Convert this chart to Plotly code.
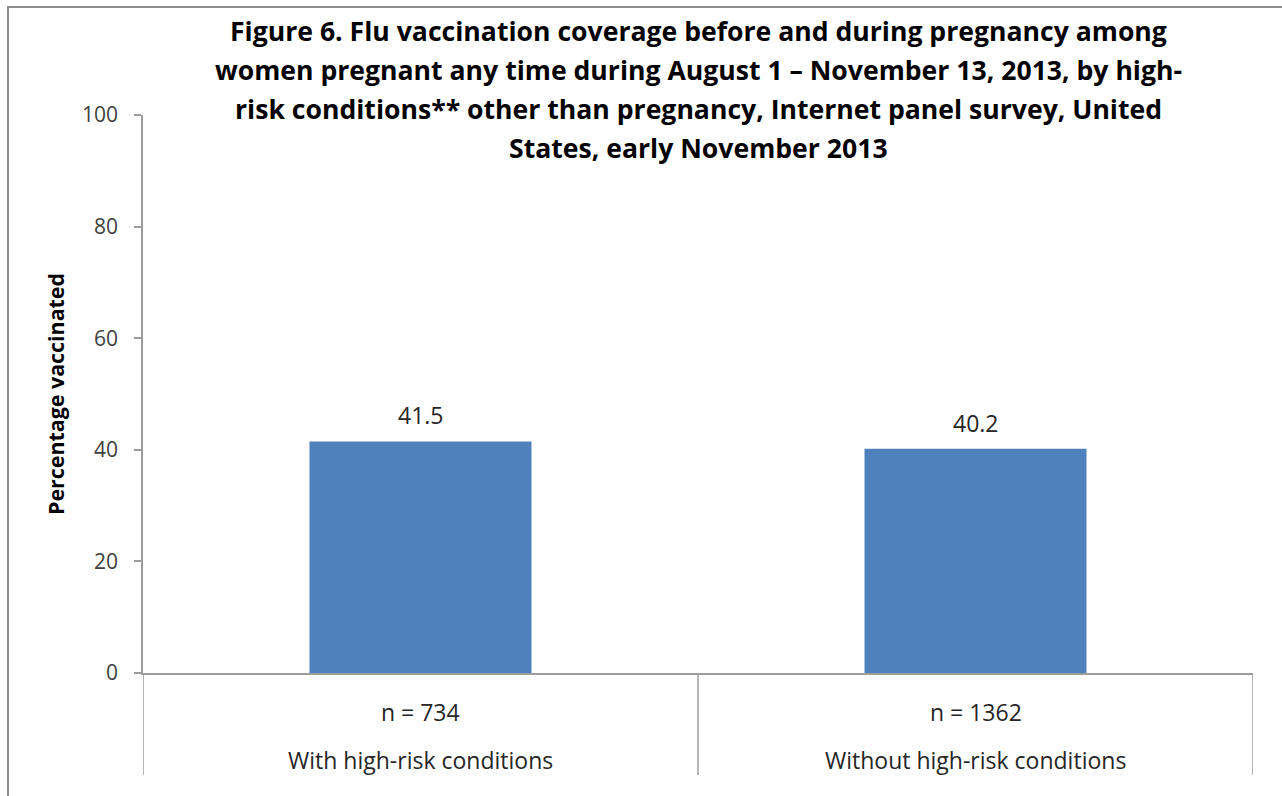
import plotly.graph_objects as go

# Chart data
categories = ["With high-risk conditions", "Without high-risk conditions"]
sample_sizes = ["n = 734", "n = 1362"]
pct_vaccinated = [41.5, 40.2]
y_ticks = [0, 20, 40, 60, 80, 100]

title_lines = [
    "Figure 6. Flu vaccination coverage before and during pregnancy among",
    "women pregnant any time during August 1 \u2013 November 13, 2013, by high-",
    "risk conditions** other than pregnancy, Internet panel survey, United",
    "States, early November 2013",
]

W, H = 1282, 796
L, R, T, B = 143, 29, 115, 123
plot_h = H - T - B

FONT = "Open Sans"
AXIS_GRAY = "#9c9c9c"
TEXT = "#262626"
BAR_BLUE = "#4f81bd"


def py_to_paper(py):
    """Convert a pixel row to plot-area paper coordinates."""
    return (H - B - py) / plot_h


x_idx = list(range(len(categories)))

fig = go.Figure(
    go.Bar(
        x=x_idx,
        y=pct_vaccinated,
        width=0.4,
        marker=dict(color=BAR_BLUE, line=dict(width=0)),
        hoverinfo="y",
    )
)

annotations = []
# Title, one line per annotation for fixed line spacing
for i, line in enumerate(title_lines):
    annotations.append(dict(
        text=f"<b>{line}</b>", xref="x", yref="paper",
        x=0.5, y=py_to_paper(31 + 39 * i), xanchor="center", yanchor="middle",
        showarrow=False, font=dict(family=FONT, size=26.6, color="#000000"),
    ))

# Value labels above each bar
for i, v in enumerate(pct_vaccinated):
    annotations.append(dict(
        text=f"{v:.1f}", xref="x", yref="y", x=i, y=v,
        xanchor="center", yanchor="middle", yshift=26, showarrow=False,
        font=dict(family=FONT, size=23, color=TEXT),
    ))

# Two-row category labels under the axis
for i, (cat, n) in enumerate(zip(categories, sample_sizes)):
    annotations.append(dict(
        text=n, xref="x", yref="paper", x=i, y=py_to_paper(712),
        xanchor="center", yanchor="middle", showarrow=False,
        font=dict(family=FONT, size=23, color=TEXT),
    ))
    annotations.append(dict(
        text=cat, xref="x", yref="paper", x=i, y=py_to_paper(760),
        xanchor="center", yanchor="middle", showarrow=False,
        font=dict(family=FONT, size=23, color=TEXT),
    ))

# Category separators extending below the axis
shapes = []
for xb in [-0.5 + k for k in range(len(categories) + 1)]:
    shapes.append(dict(
        type="line", xref="x", yref="paper", x0=xb, x1=xb,
        y0=0, y1=py_to_paper(775),
        line=dict(color=AXIS_GRAY, width=1.5),
    ))

# Outer frame: left and top edges
shapes.append(dict(type="line", xref="paper", yref="paper",
                   x0=(8 - L) / (W - L - R), x1=(8 - L) / (W - L - R),
                   y0=py_to_paper(7), y1=py_to_paper(H + 5),
                   line=dict(color="#8c8c8c", width=2)))
shapes.append(dict(type="line", xref="paper", yref="paper",
                   x0=(7 - L) / (W - L - R), x1=(W + 5 - L) / (W - L - R),
                   y0=py_to_paper(7), y1=py_to_paper(7),
                   line=dict(color="#8c8c8c", width=2)))

fig.update_layout(
    width=W, height=H,
    margin=dict(l=L, r=R, t=T, b=B, pad=0),
    paper_bgcolor="white", plot_bgcolor="white",
    showlegend=False,
    annotations=annotations,
    shapes=shapes,
    xaxis=dict(
        range=[-0.5, len(categories) - 0.5],
        showticklabels=False, showgrid=False, zeroline=False,
        showline=True, linecolor=AXIS_GRAY, linewidth=1.5,
        ticks="", fixedrange=True,
    ),
    yaxis=dict(
        range=[0, 100], tickvals=y_ticks,
        showgrid=False, zeroline=False,
        showline=True, linecolor=AXIS_GRAY, linewidth=1.5,
        ticks="outside", ticklen=7, tickcolor=AXIS_GRAY, tickwidth=1.5,
        ticklabelstandoff=12,
        tickfont=dict(family=FONT, size=21, color="#404040"),
        title=dict(text="<b>Percentage vaccinated</b>", standoff=12,
                   font=dict(family=FONT, size=21.4, color="#000000")),
        fixedrange=True,
    ),
)

fig.write_html("out.html")
